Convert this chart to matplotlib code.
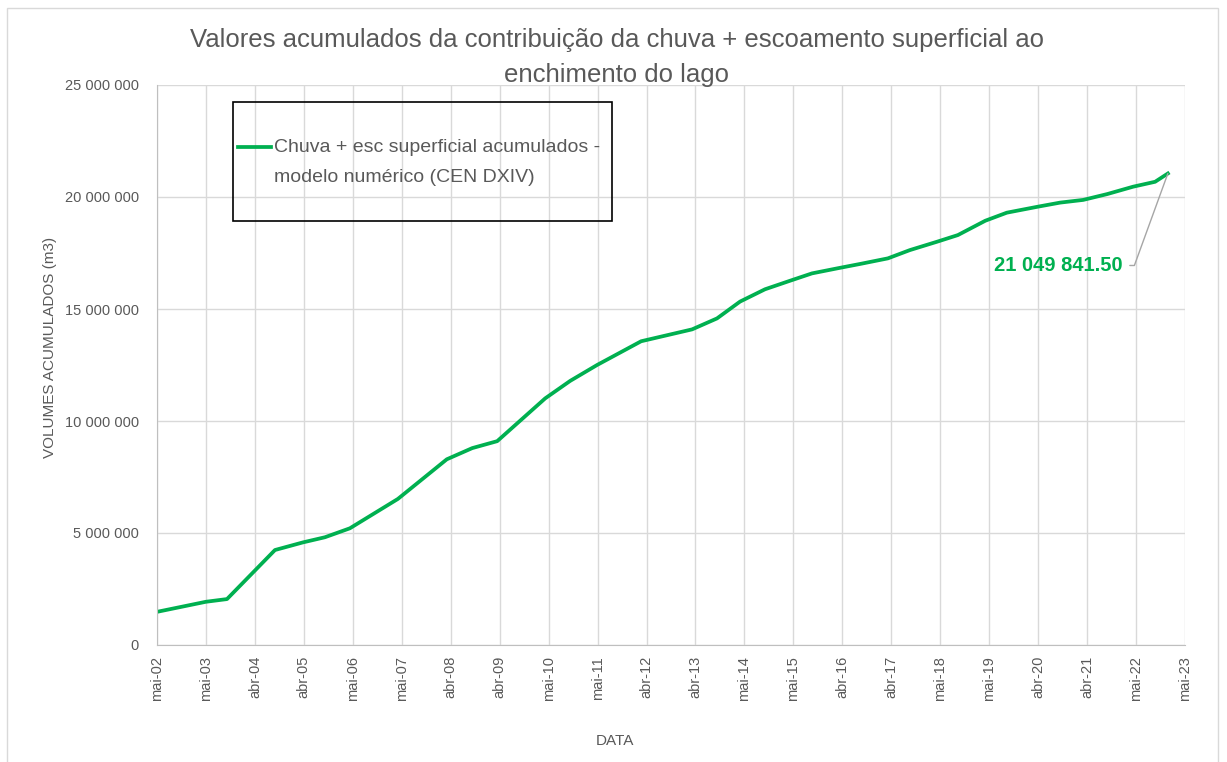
import matplotlib
matplotlib.use("Agg")
import numpy as np
import matplotlib.pyplot as plt
from matplotlib.ticker import FuncFormatter
from matplotlib.patches import Rectangle

# cumulative rain + surface runoff volumes (m3), decimal years
anos = [2002.33, 2003.33, 2003.76, 2004.74, 2005.31, 2005.76, 2006.27, 2007.25,
        2008.25, 2008.77, 2009.28, 2010.26, 2010.77, 2011.32, 2012.22, 2013.26,
        2013.77, 2014.24, 2014.75, 2015.26, 2015.71, 2016.24, 2016.69, 2017.26,
        2017.71, 2018.26, 2018.69, 2019.25, 2019.69, 2020.33, 2020.78, 2021.25,
        2021.74, 2022.27, 2022.72, 2022.98]
volumes = [1480000, 1930000, 2050000, 4240000, 4580000, 4810000, 5210000, 6520000,
           8290000, 8790000, 9100000, 11010000, 11790000, 12500000, 13560000, 14090000,
           14580000, 15330000, 15880000, 16260000, 16590000, 16820000, 17010000, 17260000,
           17630000, 18000000, 18300000, 18940000, 19300000, 19570000, 19750000, 19870000,
           20130000, 20460000, 20680000, 21049841.50]

tick_pos = [2002.33 + k for k in range(22)]
tick_labels = ["mai-02", "mai-03", "abr-04", "abr-05", "mai-06", "mai-07", "abr-08",
               "abr-09", "mai-10", "mai-11", "abr-12", "abr-13", "mai-14", "mai-15",
               "abr-16", "abr-17", "mai-18", "mai-19", "abr-20", "abr-21", "mai-22",
               "mai-23"]

verde = "#00B050"
cinza = "#595959"
fonte = "Liberation Sans"

fig = plt.figure(figsize=(12.27, 7.62), dpi=100)
W, H = 1227, 762
ax = fig.add_axes([157 / W, 1 - 645 / H, (1185 - 157) / W, (645 - 85) / H])

# chart frame
fig.patches.append(Rectangle((7 / W, -0.01), (1218 - 7) / W, 1 - 8 / H + 0.01,
                             transform=fig.transFigure, fill=False,
                             edgecolor="#D9D9D9", lw=1))

ax.plot(anos, volumes, color=verde, lw=2.7, solid_joinstyle="round",
        label="Chuva + esc superficial acumulados -\nmodelo numérico (CEN DXIV)")

ax.set_xlim(tick_pos[0], tick_pos[-1])
ax.set_ylim(0, 25000000)
ax.set_xticks(tick_pos)
ax.set_xticklabels(tick_labels, rotation=90, fontsize=10.5, color=cinza, family=fonte)
ax.set_yticks(range(0, 25000001, 5000000))
ax.yaxis.set_major_formatter(FuncFormatter(lambda v, p: f"{int(v):,}".replace(",", " ")))
for lb in ax.get_yticklabels():
    lb.set_fontsize(10.5)
    lb.set_color(cinza)
    lb.set_family(fonte)
ax.tick_params(length=0, pad=8)
ax.tick_params(axis="y", pad=13)
ax.grid(True, color="#D9D9D9", lw=1)
ax.set_axisbelow(True)
for s in ["top", "right"]:
    ax.spines[s].set_visible(False)
for s in ["left", "bottom"]:
    ax.spines[s].set_color("#BFBFBF")

ax.set_ylabel("VOLUMES ACUMULADOS (m3)", fontsize=11, color=cinza, family=fonte)
ax.yaxis.set_label_coords((57 - 157) / 1028, (645 - 347) / 560)
fig.text(615 / W, 1 - 741 / H, "DATA", fontsize=11, color=cinza, family=fonte,
         ha="center", va="center")

fig.text(617 / W, 1 - 40 / H, "Valores acumulados da contribuição da chuva + escoamento superficial ao",
         fontsize=18.5, color=cinza, family=fonte, ha="center", va="center")
fig.text(617 / W, 1 - 75 / H, "enchimento do lago",
         fontsize=18.5, color=cinza, family=fonte, ha="center", va="center")

# legend: box drawn separately, handle level with the first line of text
fig.patches.append(Rectangle((233 / W, 1 - 221 / H), (612 - 233) / W, (221 - 102) / H,
                             transform=fig.transFigure, fill=False,
                             edgecolor="black", lw=1.2, zorder=5))
leg = ax.legend(loc="center left", bbox_to_anchor=((238 - 157) / 1028, 1 - (162 - 85) / 560),
                frameon=False, handlelength=1.7, handletextpad=0.15,
                borderpad=0, borderaxespad=0, prop={"family": fonte, "size": 14})
for t in leg.get_texts():
    t.set_color(cinza)
    t.set_linespacing(2.0)
for ln in leg.get_lines():
    ln.set_ydata(np.asarray(ln.get_ydata()) + 10.6)

# label on the last value
ax.annotate(f"{volumes[-1]:,.2f}".replace(",", " "), xy=(anos[-1], volumes[-1]),
            xytext=(-45, -92), textcoords="offset pixels", ha="right", va="center",
            fontsize=14.5, fontweight="bold", color=verde, family=fonte,
            arrowprops=dict(arrowstyle="-", color="#A6A6A6", lw=1, shrinkA=3, shrinkB=0,
                            relpos=(1, 0.5),
                            connectionstyle="angle,angleA=0,angleB=70,rad=0"))

fig.savefig("out.png", dpi=100)
